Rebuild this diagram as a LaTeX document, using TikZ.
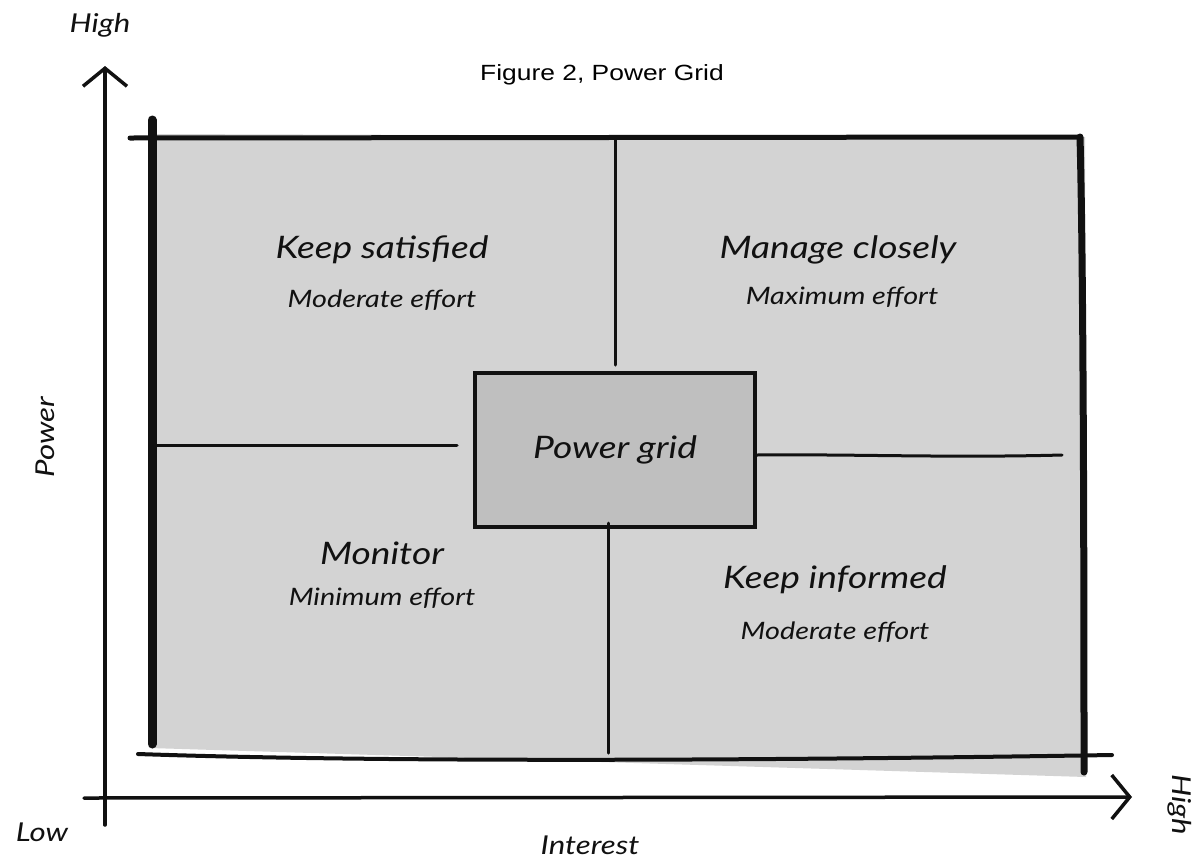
\documentclass[tikz,border=0pt]{standalone}
\usepackage{fontspec}
\setmainfont{Lato}
\newfontfamily\titlefont{Liberation Sans}
\usetikzlibrary{arrows.meta}
\definecolor{gridfill}{HTML}{D3D3D3}
\definecolor{boxfill}{HTML}{BFBFBF}
\definecolor{ink}{HTML}{111111}
\newcommand{\wide}[1]{\scalebox{1.2}[1]{#1}}
\tikzset{
  hand/.style={font=\itshape\fontsize{31}{36}\selectfont, text=ink, inner sep=0pt},
  effort/.style={font=\itshape\fontsize{24}{28}\selectfont, text=ink, inner sep=0pt},
  axislabel/.style={font=\itshape\fontsize{26}{30}\selectfont, text=ink, inner sep=0pt},
  axisline/.style={draw=ink, line width=3.5pt, line cap=round},
  frameline/.style={draw=ink, line cap=round},
  innerline/.style={draw=ink, line width=3pt, line cap=round},
  pgbox/.style={draw=ink, fill=boxfill, line width=3.5pt, minimum width=280pt, minimum height=154pt, inner sep=0pt, font=\itshape\fontsize{31}{36}\selectfont, text=ink},
  barb/.style={-{Straight Barb[length=18pt,width=44pt,line width=3.5pt]}}
}
\begin{document}
\begin{tikzpicture}[x=1pt,y=-1pt]
\useasboundingbox (0,0) rectangle (1201,865);
% gray field
\fill[gridfill] (148,134) -- (1085,137) -- (1086,777) -- (150,748) -- cycle;
% frame
\coordinate (tl) at (130,138);
\coordinate (tr) at (1080,137);
\draw[frameline, line width=5pt] (tl) -- (tr);
\coordinate (lt) at (152,120);
\coordinate (lb) at (152,744);
\draw[frameline, line width=9pt] (lt) -- (lb);
\coordinate (rt) at (1080,137);
\coordinate (rb) at (1084,772);
\draw[frameline, line width=7pt] (rt) .. controls (1083,250) and (1084,500) .. (rb);
\coordinate (bl) at (138,754);
\coordinate (br) at (1112,755);
\draw[frameline, line width=4pt] (bl) .. controls (400,763) and (800,760) .. (br);
% central box
\node[pgbox] (pg) at (615,450) {\wide{Power grid}};
% inner lines
\coordinate (mt1) at (615,138);
\coordinate (mt2) at (615,365);
\draw[innerline] (mt1) -- (mt2);
\coordinate (ml1) at (157,445);
\coordinate (ml2) at (457,445);
\draw[innerline] (ml1) -- (ml2);
\coordinate (mr1) at (757,455);
\coordinate (mr2) at (1062,455);
\draw[innerline] (mr1) .. controls (850,454) and (950,458) .. (mr2);
\coordinate (mb1) at (608,523);
\coordinate (mb2) at (608,753);
\draw[innerline] (mb1) -- (mb2);
% axes
\coordinate (yb) at (105,825);
\coordinate (yt) at (105,66);
\draw[axisline, barb] (yb) -- (yt);
\coordinate (xl) at (84,798);
\coordinate (xr) at (1132,797);
\draw[axisline, barb] (xl) -- (xr);
% quadrant labels
\node[hand] (ks) at (382,250) {\wide{Keep satisfied}};
\node[effort] (ks2) at (382,300) {\wide{Moderate effort}};
\node[hand] (mc) at (838,250) {\wide{Manage closely}};
\node[effort] (mc2) at (842,297) {\wide{Maximum effort}};
\node[hand] (mo) at (382,553) {\wide{Monitor}};
\node[effort] (mo2) at (382,598) {\wide{Minimum effort}};
\node[hand] (ki) at (835,580) {\wide{Keep informed}};
\node[effort] (ki2) at (835,632) {\wide{Moderate effort}};
% axis labels
\node[axislabel] (hy) at (100,25) {\wide{High}};
\node[axislabel] (lo) at (42,832) {\wide{Low}};
\node[axislabel] (in) at (590,845) {\wide{Interest}};
\node[axislabel, rotate=90] (po) at (45,437) {\wide{Power}};
\node[axislabel, rotate=-90] (hx) at (1180,805) {\wide{High}};
% title
\node[inner sep=0pt, font=\titlefont\fontsize{22}{26}\selectfont] (title) at (602,75) {\scalebox{1.2}[1]{Figure 2, Power Grid}};
\end{tikzpicture}
\end{document}
